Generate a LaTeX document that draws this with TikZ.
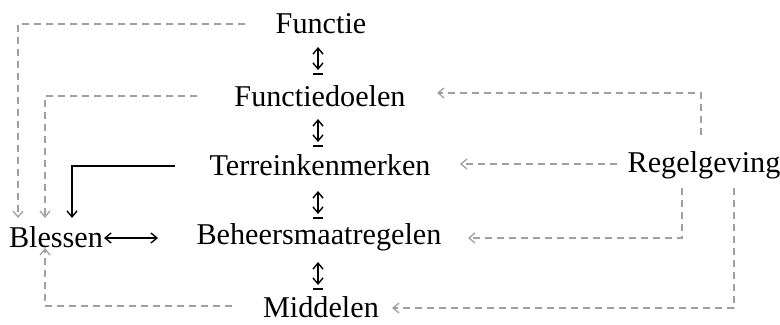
\documentclass[tikz,border=0pt]{standalone}
\usepackage{fontspec}
\setmainfont{Liberation Serif}
\usetikzlibrary{arrows.meta}
\begin{document}
\begin{tikzpicture}[x=0.5pt,y=-0.5pt,
  lbl/.style={inner sep=0pt,font=\fontsize{15.1pt}{16pt}\selectfont},
  gd/.style={draw={rgb,255:red,160;green,160;blue,160},line width=0.65pt,dash pattern=on 3.5pt off 2.5pt,-{Straight Barb[length=3pt,width=5pt]}},
  blk/.style={draw=black,line width=0.7pt,-{Straight Barb[length=3pt,width=5pt]}},
  vb/.style={draw=black,line width=0.7pt,{Straight Barb[length=3pt,width=5pt]}-{Straight Barb[length=3pt,width=5pt]}}]
\useasboundingbox (0,0) rectangle (780,325);
\node[lbl] (fun) at (321,24) {Functie};
\node[lbl] (fdo) at (320,96) {Functiedoelen};
\node[lbl] (ter) at (320,165) {Terreinkenmerken};
\node[lbl] (beh) at (319,237) {Beheersmaatregelen};
\node[lbl] (mid) at (321,307) {Middelen};
\node[lbl] (ble) at (56,237) {Blessen};
\node[lbl] (reg) at (704,165) {Regelgeving};
% vertical double arrows
\foreach \a/\y in {1/47,2/119,3/191,4/262}{
  \coordinate (t\a) at (318,\y);
  \coordinate (b\a) at (318,\y+23);
  \coordinate (l\a) at (313,\y+27);
  \coordinate (r\a) at (323,\y+27);
  \draw[vb] (t\a) -- (b\a);
  \draw[line width=0.7pt] (l\a) -- (r\a);
}
% gray dashed left
\coordinate (c1) at (18,218);
\coordinate (c2) at (45,218);
\coordinate (f1) at (245,24);
\draw[gd] (f1) -| (c1);
\coordinate (f2) at (197,96);
\draw[gd] (f2) -| (c2);
\coordinate (c3) at (72,218);
\coordinate (f3) at (175,166);
\draw[blk] (f3) -| (c3);
\coordinate (bl1) at (104,238);
\coordinate (bl2) at (158,238);
\draw[vb] (bl1) -- (bl2);
\coordinate (c4) at (45,248);
\coordinate (f4) at (232,306);
\draw[gd] (f4) -| (c4);
% Regelgeving arrows
\coordinate (r1s) at (701,135);
\coordinate (r1e) at (437,93);
\draw[gd] (r1s) |- (r1e);
\coordinate (r2s) at (617,164);
\coordinate (r2e) at (460,164);
\draw[gd] (r2s) -- (r2e);
\coordinate (r3s) at (682,188);
\coordinate (r3e) at (468,238);
\draw[gd] (r3s) |- (r3e);
\coordinate (r4s) at (734,188);
\coordinate (r4e) at (392,308);
\draw[gd] (r4s) |- (r4e);
\end{tikzpicture}
\end{document}
